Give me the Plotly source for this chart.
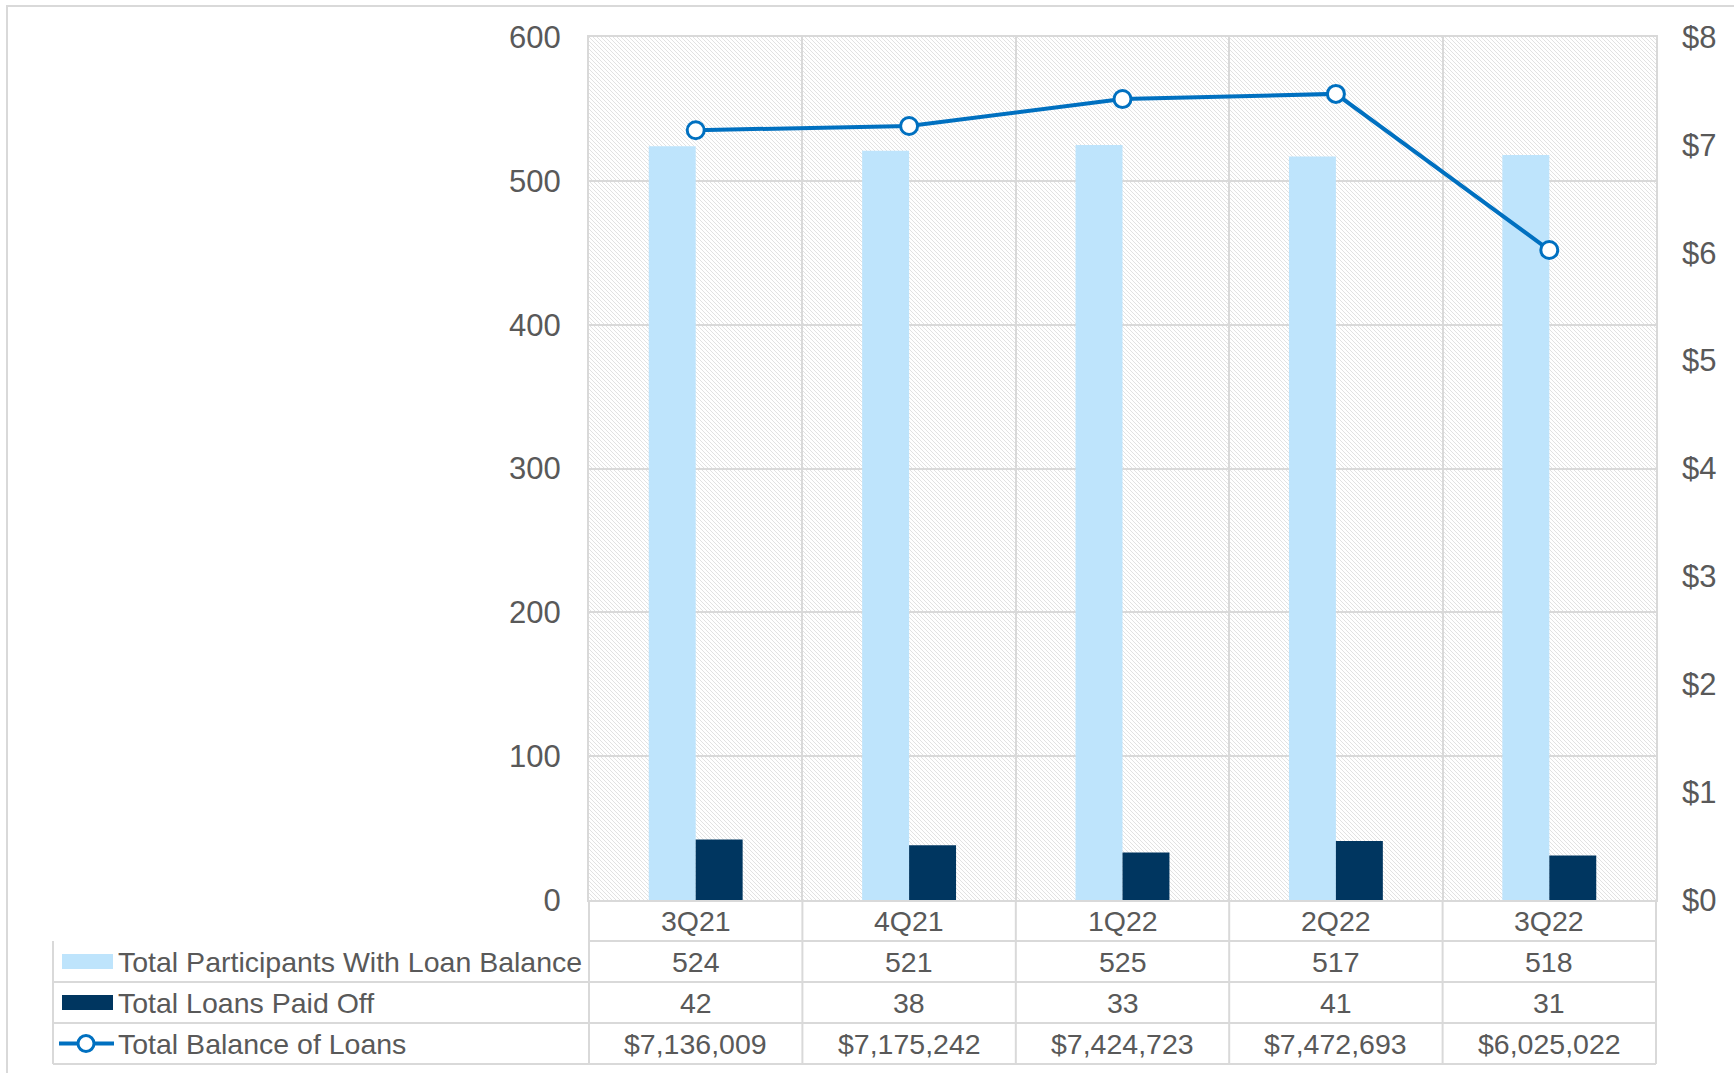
import base64
import plotly.graph_objects as go

# ---------------- data ----------------
quarters = ["3Q21", "4Q21", "1Q22", "2Q22", "3Q22"]
participants = [524, 521, 525, 517, 518]
loans_paid_off = [42, 38, 33, 41, 31]
balance_dollars = [7136009, 7175242, 7424723, 7472693, 6025022]
series_names = ["Total Participants With Loan Balance", "Total Loans Paid Off", "Total Balance of Loans"]
left_ticks = [0, 100, 200, 300, 400, 500, 600]
right_ticks = [0, 1, 2, 3, 4, 5, 6, 7, 8]
right_tick_labels = ["$0", "$1", "$2", "$3", "$4", "$5", "$6", "$7", "$8"]

balance_millions = [v / 1e6 for v in balance_dollars]

# ---------------- style ----------------
W, H = 1734, 1073
ML, MR, MT, MB = 589, 78, 37, 173
PW, PH = W - ML - MR, H - MT - MB
LIGHT = "#BEE4FC"
DARK = "#003660"
LINE = "#0070C0"
GRID = "#D9D9D9"
TXT = "#595959"
FONT = "Liberation Sans, Arial, sans-serif"
ROW = 41


def px_x(px):
    return (px - ML) / PW


# hatch background as svg
svg = (
    f'<svg xmlns="http://www.w3.org/2000/svg" width="{PW}" height="{PH}">'
    '<defs><pattern id="p" patternUnits="userSpaceOnUse" width="4" height="4">'
    '<rect width="4" height="4" fill="#FFFFFF"/>'
    '<path d="M-1,-1 L5,5 M-1,3 L1,5 M3,-1 L5,1" stroke="#E2E2E2" stroke-width="1"/>'
    '</pattern></defs>'
    f'<rect width="{PW}" height="{PH}" fill="url(#p)"/></svg>'
)
svg_uri = "data:image/svg+xml;base64," + base64.b64encode(svg.encode()).decode()

fig = go.Figure()
fig.add_trace(go.Bar(x=quarters, y=participants, name=series_names[0],
                     marker=dict(color=LIGHT, line=dict(width=0))))
fig.add_trace(go.Bar(x=quarters, y=loans_paid_off, name=series_names[1],
                     marker=dict(color=DARK, line=dict(width=0))))
fig.add_trace(go.Scatter(x=quarters, y=balance_millions, name=series_names[2], yaxis="y2",
                         mode="lines+markers",
                         line=dict(color=LINE, width=4),
                         marker=dict(symbol="circle", size=17, color="white",
                                     line=dict(color=LINE, width=3))))

shapes = []
annotations = []

# outer border
shapes.append(dict(type="rect", xref="paper", yref="paper",
                   x0=px_x(7), x1=px_x(1745), y0=(H - MB - 6) / PH, y1=(H - MB - 1085) / PH,
                   line=dict(color=GRID, width=2), fillcolor="rgba(0,0,0,0)", layer="below"))

line_style = dict(color=GRID, width=2)
leg_left = px_x(53)
# horizontal table lines
for k in range(1, 5):
    shapes.append(dict(type="line", xref="paper", yref="paper", ysizemode="pixel", yanchor=0,
                       x0=leg_left if k > 1 else 0, x1=1, y0=-ROW * k, y1=-ROW * k, line=line_style))
# vertical lines
shapes.append(dict(type="line", xref="paper", yref="paper", ysizemode="pixel", yanchor=0,
                   x0=leg_left, x1=leg_left, y0=-ROW * 4, y1=-ROW, line=line_style))
for xv in [0, 1]:
    shapes.append(dict(type="line", xref="paper", yref="paper", ysizemode="pixel", yanchor=0,
                       x0=xv, x1=xv, y0=-ROW * 4, y1=0, line=line_style))
for i in range(len(quarters) - 1):
    shapes.append(dict(type="line", xref="x", yref="paper", ysizemode="pixel", yanchor=0,
                       x0=i + 0.5, x1=i + 0.5, y0=-ROW * 4, y1=0, line=line_style))

# legend swatches
for r, col in [(1, LIGHT), (2, DARK)]:
    c = -ROW * r - ROW / 2
    shapes.append(dict(type="rect", xref="paper", yref="paper", ysizemode="pixel", yanchor=0,
                       x0=px_x(62), x1=px_x(113), y0=c - 7.5, y1=c + 7.5,
                       fillcolor=col, line=dict(width=0)))
c3 = -ROW * 3 - ROW / 2
shapes.append(dict(type="line", xref="paper", yref="paper", ysizemode="pixel", yanchor=0,
                   x0=px_x(59), x1=px_x(114), y0=c3, y1=c3, line=dict(color=LINE, width=4)))
shapes.append(dict(type="circle", xref="paper", yref="paper", xsizemode="pixel", ysizemode="pixel",
                   xanchor=px_x(86), yanchor=0, x0=-8, x1=8, y0=c3 - 8, y1=c3 + 8,
                   fillcolor="white", line=dict(color=LINE, width=3)))

tfont = dict(family=FONT, size=28.5, color=TXT)
# legend labels
for r, name in enumerate(series_names, start=1):
    annotations.append(dict(xref="paper", yref="paper", x=px_x(116), y=0, yshift=-ROW * r - ROW / 2,
                            text=name, showarrow=False, xanchor="left", yanchor="middle", font=tfont))
# table cells
rows = [quarters,
        [f"{v}" for v in participants],
        [f"{v}" for v in loans_paid_off],
        [f"${v:,.0f}" for v in balance_dollars]]
for r, vals in enumerate(rows):
    for i, t in enumerate(vals):
        annotations.append(dict(xref="x", yref="paper", x=i, y=0, yshift=-ROW * r - ROW / 2,
                                text=t, showarrow=False, xanchor="center", yanchor="middle", font=tfont))

fig.update_layout(
    width=W, height=H,
    margin=dict(l=ML, r=MR, t=MT, b=MB, autoexpand=False),
    paper_bgcolor="white", plot_bgcolor="rgba(0,0,0,0)",
    barmode="group", bargap=0.56, bargroupgap=0,
    showlegend=False,
    font=dict(family=FONT, color=TXT),
    shapes=shapes, annotations=annotations,
    images=[dict(source=svg_uri, xref="paper", yref="paper", x=0, y=1, sizex=1, sizey=1,
                 xanchor="left", yanchor="top", sizing="stretch", layer="below")],
    xaxis=dict(type="category", range=[-0.5, len(quarters) - 0.5], tickson="boundaries",
               showticklabels=False, ticks="", showgrid=True, gridcolor=GRID, gridwidth=2,
               showline=True, linecolor=GRID, linewidth=2, mirror=True, zeroline=False),
    yaxis=dict(range=[0, 600], tickvals=left_ticks, showgrid=True, gridcolor=GRID, gridwidth=2,
               showline=True, linecolor=GRID, linewidth=2, mirror=True, zeroline=False,
               ticks="", ticklabelstandoff=20, tickfont=dict(family=FONT, size=31, color=TXT)),
    yaxis2=dict(range=[0, 8], overlaying="y", side="right", tickvals=right_ticks,
                ticktext=right_tick_labels, showgrid=False, zeroline=False, showline=False,
                ticks="", ticklabelstandoff=25, tickfont=dict(family=FONT, size=31, color=TXT)),
)

fig.write_html("out.html", config={"displayModeBar": False},
               post_script="document.body.style.margin='0';document.body.style.overflow='hidden';")
